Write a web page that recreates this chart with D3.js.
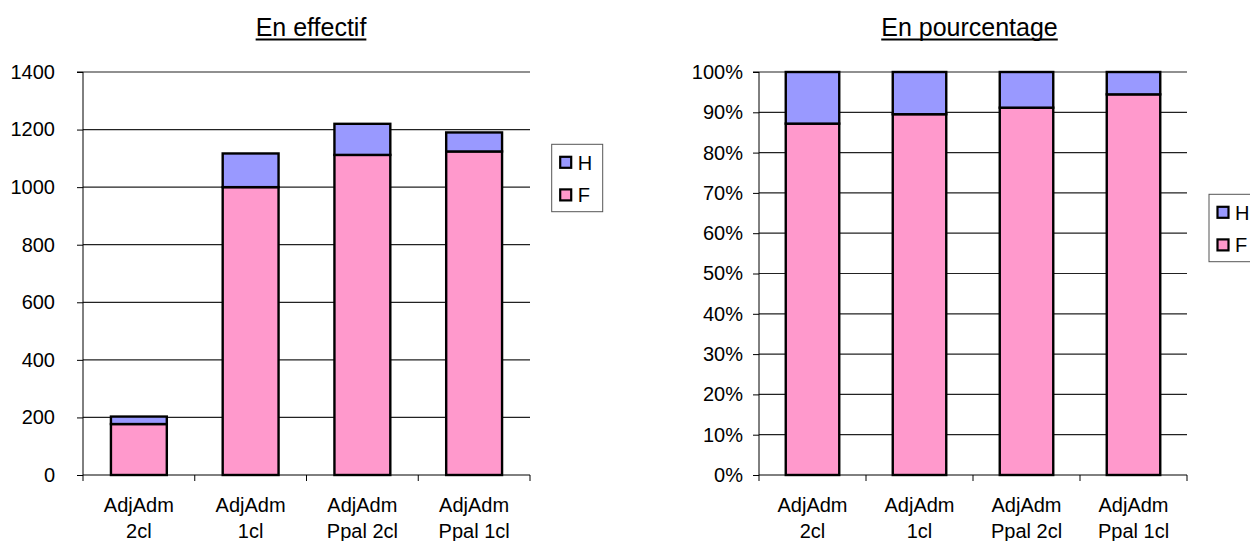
<!DOCTYPE html>
<html><head><meta charset="utf-8">
<script src="https://cdn.jsdelivr.net/npm/d3@7"></script>
<style>
body{margin:0;background:#fff}
svg{display:block}
text{font-family:"Liberation Sans",Arial,sans-serif;fill:#000}
</style>
</head><body>
<svg id="c" width="1250" height="541"></svg>
<script>
// ---- data ----
const categories = ["AdjAdm\n2cl", "AdjAdm\n1cl", "AdjAdm\nPpal 2cl", "AdjAdm\nPpal 1cl"];
const seriesNames = ["F", "H"];
const valuesF = [177, 1000, 1112, 1124];
const valuesH = [26, 117, 108, 66];
const countTicks = [0, 200, 400, 600, 800, 1000, 1200, 1400];
const pctTicks = [0, 0.1, 0.2, 0.3, 0.4, 0.5, 0.6, 0.7, 0.8, 0.9, 1];
const legendOrder = ["H", "F"];
const titles = ["En effectif", "En pourcentage"];
const colors = { F: "#FF99CC", H: "#9999FF" };

const table = categories.map((c, i) => ({ cat: c, F: valuesF[i], H: valuesH[i] }));

const svg = d3.select("#c");

const panels = [
  { title: titles[0], x0: 83, x1: 530, yb: 475, yt: 72, titleX: 311,
    domain: [0, 1400], ticks: countTicks, fmt: d3.format("d"), pad: 22,
    offset: d3.stackOffsetNone, legend: { x: 551.7, y: 144.3 } },
  { title: titles[1], x0: 759, x1: 1187, yb: 475, yt: 72, titleX: 969.5,
    domain: [0, 1], ticks: pctTicks, fmt: d3.format(".0%"), pad: 10,
    offset: d3.stackOffsetExpand, legend: { x: 1209, y: 194.3 } }
];

panels.forEach(p => {
  const g = svg.append("g");
  const x = d3.scaleBand().domain(categories).range([p.x0, p.x1])
    .paddingInner(0.5).paddingOuter(0.25);
  const y = d3.scaleLinear().domain(p.domain).range([p.yb, p.yt]);

  // gridlines
  g.append("g").selectAll("line").data(p.ticks.slice(1)).join("line")
    .attr("x1", p.x0).attr("x2", p.x1)
    .attr("y1", d => y(d)).attr("y2", d => y(d))
    .attr("stroke", "#222").attr("stroke-width", 1.2);

  // y axis
  const ya = g.append("g").attr("transform", `translate(${p.x0},0)`)
    .call(d3.axisLeft(y).tickValues(p.ticks).tickFormat(p.fmt).tickSize(6).tickPadding(p.pad));
  ya.select(".domain").attr("stroke", "#000").attr("d", `M-6,${p.yt}H0V${p.yb}`);
  ya.selectAll(".tick line").attr("stroke", "#000");
  ya.selectAll(".tick text").attr("font-size", "20px")
    .attr("font-family", '"Liberation Sans",Arial,sans-serif').attr("fill", "#000");

  // bars
  const stack = d3.stack().keys(seriesNames).offset(p.offset)(table);
  g.append("g").selectAll("g").data(stack).join("g")
    .attr("fill", d => colors[d.key])
    .selectAll("rect").data(d => d).join("rect")
    .attr("x", d => x(d.data.cat))
    .attr("width", x.bandwidth())
    .attr("y", d => y(d[1]))
    .attr("height", d => y(d[0]) - y(d[1]))
    .attr("stroke", "#000").attr("stroke-width", 2.4);

  // x axis
  g.append("line").attr("x1", p.x0).attr("x2", p.x1)
    .attr("y1", y(0)).attr("y2", y(0)).attr("stroke", "#000");
  const bounds = d3.range(categories.length + 1).map(i => p.x0 + i * x.step());
  g.append("g").selectAll("line").data(bounds).join("line")
    .attr("x1", d => d).attr("x2", d => d)
    .attr("y1", y(0)).attr("y2", y(0) + 6).attr("stroke", "#000");
  const lab = g.append("g").selectAll("text").data(categories).join("text")
    .attr("x", d => x(d) + x.bandwidth() / 2)
    .attr("text-anchor", "middle").attr("font-size", "20px");
  lab.each(function (d) {
    d.split("\n").forEach((line, i) => {
      d3.select(this).append("tspan").attr("x", x(d) + x.bandwidth() / 2)
        .attr("y", 512 + i * 25.5).text(line);
    });
  });

  // title
  const t = g.append("text").attr("x", p.titleX).attr("y", 36)
    .attr("text-anchor", "middle").attr("font-size", "25px").text(p.title);
  const w = t.node().getComputedTextLength();
  g.append("line").attr("x1", p.titleX - w / 2).attr("x2", p.titleX + w / 2)
    .attr("y1", 39.5).attr("y2", 39.5).attr("stroke", "#000").attr("stroke-width", 2);

  // legend
  const lg = g.append("g").attr("transform", `translate(${p.legend.x},${p.legend.y})`);
  lg.append("rect").attr("x", 0).attr("y", 0).attr("width", 51).attr("height", 67.4)
    .attr("fill", "#fff").attr("stroke", "#555").attr("stroke-width", 1);
  const items = lg.selectAll("g").data(legendOrder).join("g")
    .attr("transform", (d, i) => `translate(0,${18 + i * 32.6})`);
  items.append("rect").attr("x", 8.5).attr("y", -5.5).attr("width", 11).attr("height", 11)
    .attr("fill", d => colors[d]).attr("stroke", "#000").attr("stroke-width", 2.2);
  items.append("text").attr("x", 26).attr("y", 0).attr("dy", "0.36em")
    .attr("font-size", "20px").text(d => d);
});
</script>
</body></html>
